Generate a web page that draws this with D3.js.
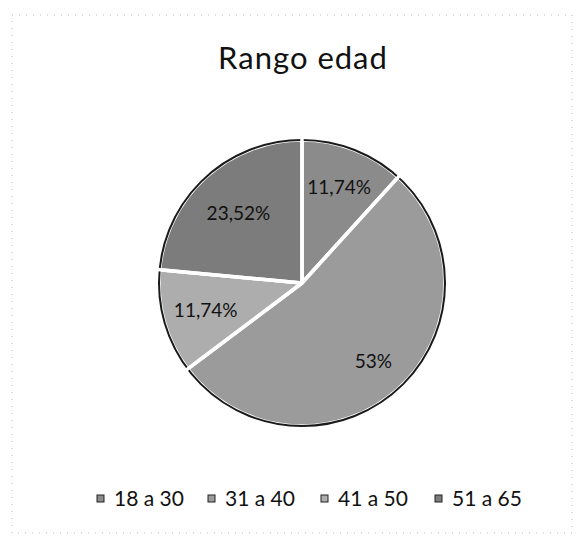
<!DOCTYPE html>
<html>
<head>
<meta charset="utf-8">
<script src="https://cdn.jsdelivr.net/npm/d3@7"></script>
<style>
  body { margin: 0; background: #fff; }
  svg { display: block; font-family: Lato, "Open Sans", sans-serif; }
</style>
</head>
<body>
<script>
// data
const categories = ["18 a 30", "31 a 40", "41 a 50", "51 a 65"];
const shares = [11.74, 53, 11.74, 23.52];
const labels = ["11,74%", "53%", "11,74%", "23,52%"];
const fills = ["#8b8b8b", "#9b9b9b", "#adadad", "#7c7c7c"];

const width = 585;
const height = 540;
const cx = 302, cy = 283, r = 143;

const svg = d3.select("body").append("svg")
  .attr("width", width)
  .attr("height", height);

// faint dotted frame like the scan
svg.append("rect")
  .attr("x", 12).attr("y", 15)
  .attr("width", 560).attr("height", 518)
  .attr("fill", "none")
  .attr("stroke", "#bbb")
  .attr("stroke-width", 1)
  .attr("stroke-dasharray", "1,6");

svg.append("text")
  .attr("x", 303).attr("y", 69)
  .attr("text-anchor", "middle")
  .attr("font-size", 31)
  .attr("letter-spacing", 1)
  .attr("fill", "#111")
  .text("Rango edad");

const data = categories.map((c, i) => ({ cat: c, value: shares[i], label: labels[i], fill: fills[i] }));

const pie = d3.pie().sort(null).value(d => d.value);
const arc = d3.arc().innerRadius(0).outerRadius(r);
// label radius per slice (excel "best fit" puts them a bit unevenly)
const labelR = [0.72, 0.74, 0.7, 0.66];

const g = svg.append("g").attr("transform", `translate(${cx},${cy})`);
const arcs = pie(data);

g.selectAll("path.slice")
  .data(arcs)
  .enter()
  .append("path")
  .attr("class", "slice")
  .attr("d", arc)
  .attr("fill", d => d.data.fill)
  .attr("stroke", "#fff")
  .attr("stroke-width", 3.5)
  .attr("stroke-linejoin", "round");

// dark outer rim
g.append("circle")
  .attr("r", r)
  .attr("fill", "none")
  .attr("stroke", "#1a1a1a")
  .attr("stroke-width", 2);

// redraw white gaps over the rim
g.selectAll("line.gap")
  .data(arcs)
  .enter()
  .append("line")
  .attr("class", "gap")
  .attr("x1", 0).attr("y1", 0)
  .attr("x2", d => Math.sin(d.startAngle) * (r + 2))
  .attr("y2", d => -Math.cos(d.startAngle) * (r + 2))
  .attr("stroke", "#fff")
  .attr("stroke-width", 3.5);

g.selectAll("text.lbl")
  .data(arcs)
  .enter()
  .append("text")
  .attr("class", "lbl")
  .attr("transform", (d, i) => {
    const lr = r * labelR[i];
    return `translate(${d3.arc().innerRadius(lr).outerRadius(lr).centroid(d)})`;
  })
  .attr("text-anchor", "middle")
  .attr("dy", "0.35em")
  .attr("font-size", 19)
  .attr("fill", "#111")
  .text(d => d.data.label);

// legend
const legendX = [97, 208, 321, 435];
const legend = svg.append("g").attr("transform", "translate(0,499)");
const items = legend.selectAll("g")
  .data(data)
  .enter()
  .append("g")
  .attr("transform", (d, i) => `translate(${legendX[i]},0)`);

items.append("rect")
  .attr("x", 0).attr("y", -4)
  .attr("width", 7).attr("height", 7)
  .attr("fill", d => d.fill)
  .attr("stroke", "#222")
  .attr("stroke-width", 1);

items.append("text")
  .attr("x", 17)
  .attr("y", 0)
  .attr("dy", "0.35em")
  .attr("font-size", 21)
  .attr("fill", "#111")
  .text(d => d.cat);
</script>
</body>
</html>
